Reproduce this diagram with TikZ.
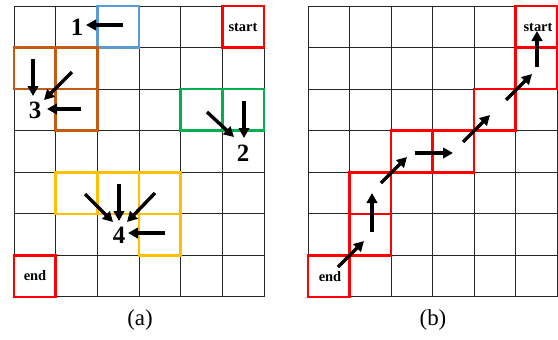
\documentclass[tikz,border=0pt]{standalone}
\usepackage{fontspec}
\setmainfont{Liberation Serif}
\usetikzlibrary{arrows.meta}
\definecolor{cblue}{HTML}{5B9BD5}
\definecolor{corange}{HTML}{C55A11}
\definecolor{cgreen}{HTML}{00B050}
\definecolor{cyellow}{HTML}{FFC000}
\definecolor{cred}{HTML}{FF0000}
\tikzset{
  gridline/.style={line width=1bp, black!85},
  hl/.style={line width=2.6bp},
  arr/.style={line width=3.4bp, -{Triangle[length=10bp,width=10.5bp]}},
  num/.style={font=\bfseries\fontsize{25}{25}\selectfont, inner sep=0pt},
  lbl/.style={font=\bfseries\fontsize{14.5}{14.5}\selectfont, inner sep=0pt},
  captext/.style={font=\fontsize{23}{23}\selectfont, inner sep=0pt}
}
\newcommand\cellL[3]{\draw[hl,#3] ({14+#1*41.67},{6+#2*41.57}) rectangle ++(41.67,41.57);}
\newcommand\cellR[3]{\draw[hl,#3] ({308+#1*41.5},{6+#2*41.57}) rectangle ++(41.5,41.57);}
\begin{document}
\begin{tikzpicture}[x=1bp,y=-1bp]
\useasboundingbox (0,0) rectangle (558,339);
% left grid
\foreach \i in {0,...,6} \draw[gridline] ({14+\i*41.67},6) -- ({14+\i*41.67},297);
\foreach \j in {0,...,7} \draw[gridline] (14,{6+\j*41.57}) -- (264,{6+\j*41.57});
% right grid
\foreach \i in {0,...,6} \draw[gridline] ({308+\i*41.5},6) -- ({308+\i*41.5},297);
\foreach \j in {0,...,7} \draw[gridline] (308,{6+\j*41.57}) -- (557,{6+\j*41.57});
% left highlights
\cellL{2}{0}{cblue}
\cellL{0}{1}{corange}
\cellL{1}{1}{corange}
\cellL{1}{2}{corange}
\cellL{4}{2}{cgreen}
\cellL{5}{2}{cgreen}
\cellL{1}{4}{cyellow}
\cellL{2}{4}{cyellow}
\cellL{3}{4}{cyellow}
\cellL{3}{5}{cyellow}
\cellL{5}{0}{cred}
\cellL{0}{6}{cred}
% right highlights
\cellR{5}{0}{cred}
\cellR{5}{1}{cred}
\cellR{4}{2}{cred}
\cellR{2}{3}{cred}
\cellR{3}{3}{cred}
\cellR{1}{4}{cred}
\cellR{1}{5}{cred}
\cellR{0}{6}{cred}
% left labels
\node[num] (n1) at (77,27) {1};
\node[num] (n2) at (243,153) {2};
\node[num] (n3) at (35,110) {3};
\node[num] (n4) at (119,235) {4};
\node[lbl] (sL) at (243,27) {start};
\node[lbl] (eL) at (35,276) {end};
\node[captext] (ca) at (140,320) {(a)};
% left arrows
\coordinate (a1s) at (123,25); \coordinate (a1e) at (86,25);
\draw[arr] (a1s) -- (a1e);
\coordinate (a3vs) at (33,59); \coordinate (a3ve) at (33,96);
\coordinate (a3ds) at (72,72); \coordinate (a3de) at (44,100);
\coordinate (a3hs) at (81,109); \coordinate (a3he) at (47,109);
\draw[arr] (a3vs) -- (a3ve);
\draw[arr] (a3ds) -- (a3de);
\draw[arr] (a3hs) -- (a3he);
\coordinate (a2vs) at (244,101); \coordinate (a2ve) at (244,138);
\coordinate (a2ds) at (207,112); \coordinate (a2de) at (234,137);
\draw[arr] (a2vs) -- (a2ve);
\draw[arr] (a2ds) -- (a2de);
\coordinate (a4as) at (85,194); \coordinate (a4ae) at (113,222);
\coordinate (a4bs) at (119,184); \coordinate (a4be) at (119,221);
\coordinate (a4cs) at (155,193); \coordinate (a4ce) at (127,222);
\coordinate (a4ds) at (165,233); \coordinate (a4de) at (128,233);
\draw[arr] (a4as) -- (a4ae);
\draw[arr] (a4bs) -- (a4be);
\draw[arr] (a4cs) -- (a4ce);
\draw[arr] (a4ds) -- (a4de);
% right labels
\node[lbl] (sR) at (538,27) {start};
\node[lbl] (eR) at (330,277) {end};
\node[captext] (cb) at (433,320) {(b)};
% right arrows
\coordinate (p0) at (338,267); \coordinate (p1) at (364,241);
\coordinate (p2) at (372,232); \coordinate (p3) at (372,193);
\coordinate (p4) at (381,183); \coordinate (p5) at (407,157);
\coordinate (p6) at (415,153); \coordinate (p7) at (453,153);
\coordinate (p8) at (463,142); \coordinate (p9) at (490,115);
\coordinate (p10) at (506,100); \coordinate (p11) at (532,74);
\coordinate (p12) at (537,67); \coordinate (p13) at (537,31);
\draw[arr] (p0) -- (p1);
\draw[arr] (p2) -- (p3);
\draw[arr] (p4) -- (p5);
\draw[arr] (p6) -- (p7);
\draw[arr] (p8) -- (p9);
\draw[arr] (p10) -- (p11);
\draw[arr] (p12) -- (p13);
\end{tikzpicture}
\end{document}
